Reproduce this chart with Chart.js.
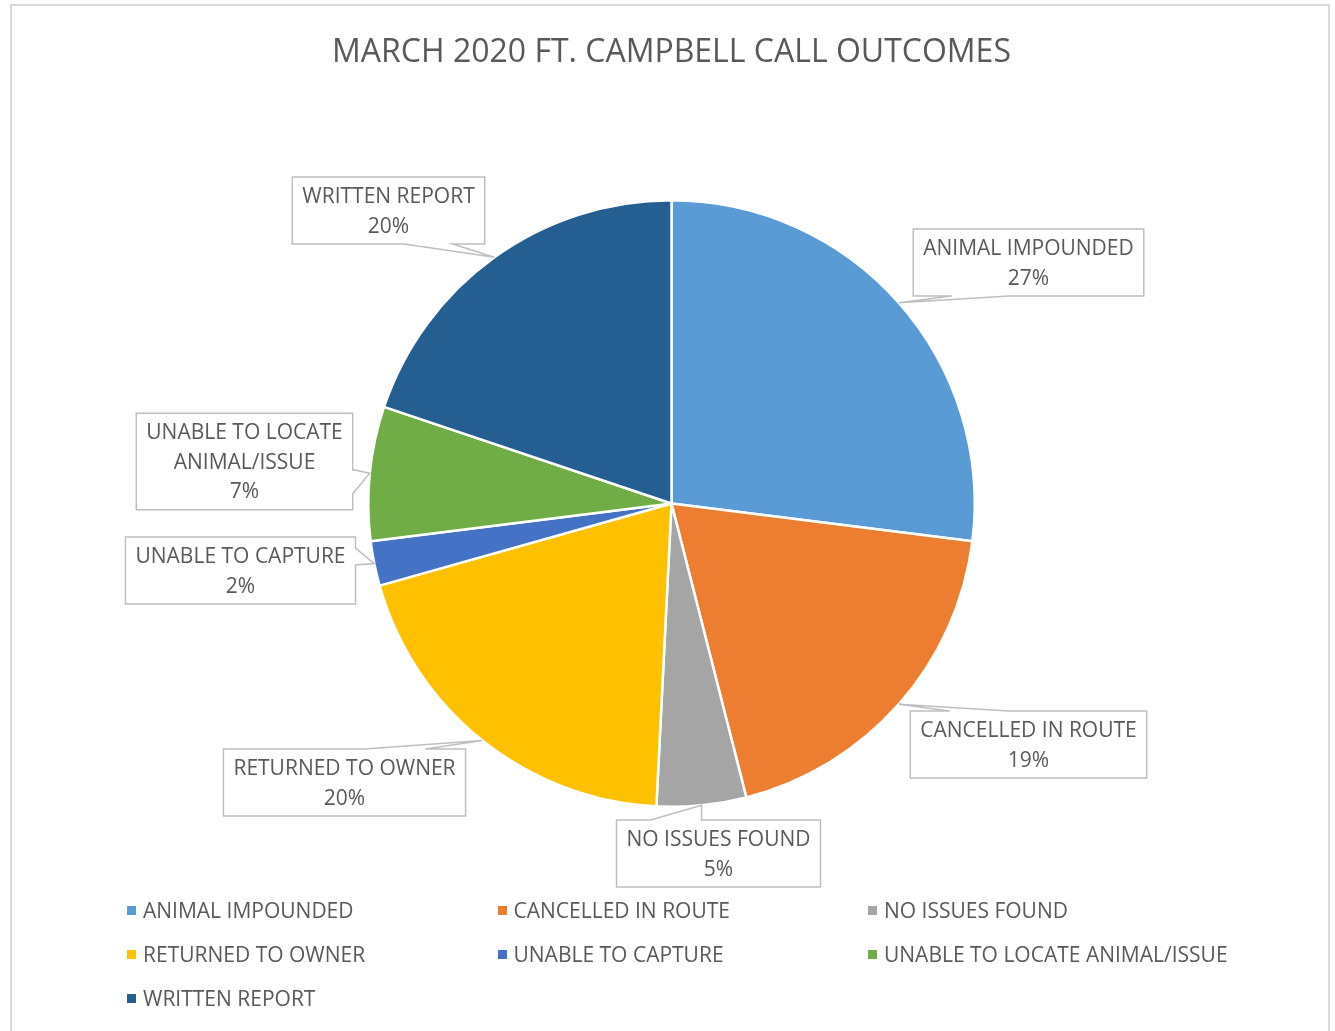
<!DOCTYPE html>
<html>
<head>
<meta charset="utf-8">
<title>March 2020 Ft. Campbell Call Outcomes</title>
<script src="https://cdn.jsdelivr.net/npm/chart.js@4.4.1/dist/chart.umd.min.js"></script>
<style>
  html, body { margin: 0; padding: 0; background: #fff; }
  #wrap { position: relative; width: 1335px; height: 1031px; overflow: hidden; }
  #frame { position: absolute; left: 10px; top: 4px; width: 1320px; height: 1100px; border: 2px solid #d9d9d9; box-sizing: border-box; }
  #chart { position: absolute; left: 0; top: 0; }
  .legend-item { position: absolute; height: 30px; display: flex; align-items: center;
    font-family: "Open Sans", sans-serif; font-size: 21px; color: #595959; white-space: nowrap; }
  .legend-item .swatch { width: 9px; height: 9px; margin-right: 7px; }
</style>
</head>
<body>
<div id="wrap">
  <div id="frame"></div>
  <canvas id="chart" width="1335" height="1031"></canvas>
  <div id="legend"></div>
</div>
<script>
const titulo = "MARCH 2020 FT. CAMPBELL CALL OUTCOMES";

const categorias = [
    "ANIMAL IMPOUNDED",
    "CANCELLED IN ROUTE",
    "NO ISSUES FOUND",
    "RETURNED TO OWNER",
    "UNABLE TO CAPTURE",
    "UNABLE TO LOCATE ANIMAL/ISSUE",
    "WRITTEN REPORT"
];

// number of calls per outcome
const chamadas = [34, 24, 6, 25, 3, 9, 25];

const cores = ["#5B9BD5", "#ED7D31", "#A5A5A5", "#FFC000", "#4472C4", "#70AD47", "#255E91"];

// where each callout box sits, relative to the pie centre
const posCallout = [
    { dx: 357, dy: -241 },
    { dx: 357, dy: 241 },
    { dx: 47, dy: 350 },
    { dx: -327, dy: 279 },
    { dx: -431, dy: 67 },
    { dx: -427, dy: -42 },
    { dx: -283, dy: -293 }
];

const fonteTexto = '21px "Open Sans", sans-serif';
const corTexto = "#595959";

function quebrarTexto(ctx, texto, larguraMax) {
    const palavras = texto.split(" ");
    const linhas = [];
    let atual = "";
    palavras.forEach(p => {
        const teste = atual ? atual + " " + p : p;
        if (ctx.measureText(teste).width > larguraMax && atual) {
            linhas.push(atual);
            atual = p;
        } else {
            atual = teste;
        }
    });
    if (atual) linhas.push(atual);
    return linhas;
}

// Excel style wedge callout (rectangle with a pointer)
function desenharCallout(ctx, l, t, w, h, tx, ty) {
    const r = l + w, b = t + h;
    const hc = l + w / 2, vc = t + h / 2;
    const dx = tx - hc, dy = ty - vc;
    const dq = dx * h / w;
    const vertical = Math.abs(dy) - Math.abs(dq) > 0;
    const x1 = l + w * (dx > 0 ? 7 : 2) / 12;
    const x2 = l + w * (dx > 0 ? 10 : 5) / 12;
    const y1 = t + h * (dy > 0 ? 7 : 2) / 12;
    const y2 = t + h * (dy > 0 ? 10 : 5) / 12;

    ctx.beginPath();
    ctx.moveTo(l, t);
    if (vertical && dy < 0) { ctx.lineTo(x1, t); ctx.lineTo(tx, ty); ctx.lineTo(x2, t); }
    ctx.lineTo(r, t);
    if (!vertical && dx > 0) { ctx.lineTo(r, y1); ctx.lineTo(tx, ty); ctx.lineTo(r, y2); }
    ctx.lineTo(r, b);
    if (vertical && dy > 0) { ctx.lineTo(x2, b); ctx.lineTo(tx, ty); ctx.lineTo(x1, b); }
    ctx.lineTo(l, b);
    if (!vertical && dx < 0) { ctx.lineTo(l, y2); ctx.lineTo(tx, ty); ctx.lineTo(l, y1); }
    ctx.closePath();
    ctx.fillStyle = "#ffffff";
    ctx.fill();
    ctx.strokeStyle = "#bfbfbf";
    ctx.lineWidth = 1.5;
    ctx.stroke();
}

const pluginCallouts = {
    id: "callouts",
    afterDatasetsDraw(chart) {
        const ctx = chart.ctx;
        const meta = chart.getDatasetMeta(0);
        const dados = chart.data.datasets[0].data;
        const total = dados.reduce((a, v) => a + v, 0);

        ctx.save();
        ctx.font = fonteTexto;
        meta.data.forEach((arco, i) => {
            const p = arco.getProps(["x", "y", "startAngle", "endAngle", "outerRadius"], true);
            const meio = (p.startAngle + p.endAngle) / 2;
            const tx = p.x + Math.cos(meio) * p.outerRadius;
            const ty = p.y + Math.sin(meio) * p.outerRadius;

            const linhas = quebrarTexto(ctx, chart.data.labels[i], 260);
            linhas.push(Math.round(dados[i] / total * 100) + "%");

            let larg = 0;
            linhas.forEach(l => { larg = Math.max(larg, ctx.measureText(l).width); });
            const alturaLinha = 29.5;
            const w = larg + 20;
            const h = linhas.length * alturaLinha + 8;
            const cx = p.x + posCallout[i].dx;
            const cy = p.y + posCallout[i].dy;

            desenharCallout(ctx, cx - w / 2, cy - h / 2, w, h, tx, ty);

            ctx.fillStyle = corTexto;
            ctx.textAlign = "center";
            ctx.textBaseline = "middle";
            linhas.forEach((l, k) => {
                ctx.fillText(l, cx, cy - (linhas.length - 1) * alturaLinha / 2 + k * alturaLinha + 1.5);
            });
        });
        ctx.restore();
    }
};

const grafico = new Chart(document.getElementById("chart"), {
    type: "pie",
    data: {
        labels: categorias,
        datasets: [{
            data: chamadas,
            backgroundColor: cores,
            borderColor: "#ffffff",
            borderWidth: 2.5
        }]
    },
    options: {
        responsive: false,
        animation: false,
        layout: {
            padding: { top: 0, left: 8, right: 0, bottom: 223 }
        },
        plugins: {
            legend: { display: false },
            tooltip: { enabled: false },
            title: {
                display: true,
                text: titulo,
                color: corTexto,
                font: { family: "Open Sans", size: 32, weight: "normal", lineHeight: 1.2 },
                padding: { top: 34, bottom: 126.6 }
            }
        }
    },
    plugins: [pluginCallouts]
});

// legend in three columns under the chart
const legenda = document.getElementById("legend");
categorias.forEach((nome, i) => {
    const item = document.createElement("div");
    item.className = "legend-item";
    item.style.left = (127 + (i % 3) * 370.5) + "px";
    item.style.top = (895 + Math.floor(i / 3) * 44) + "px";

    const quadrado = document.createElement("span");
    quadrado.className = "swatch";
    quadrado.style.backgroundColor = cores[i];

    const texto = document.createElement("span");
    texto.innerText = nome;

    item.appendChild(quadrado);
    item.appendChild(texto);
    legenda.appendChild(item);
});
</script>
</body>
</html>
